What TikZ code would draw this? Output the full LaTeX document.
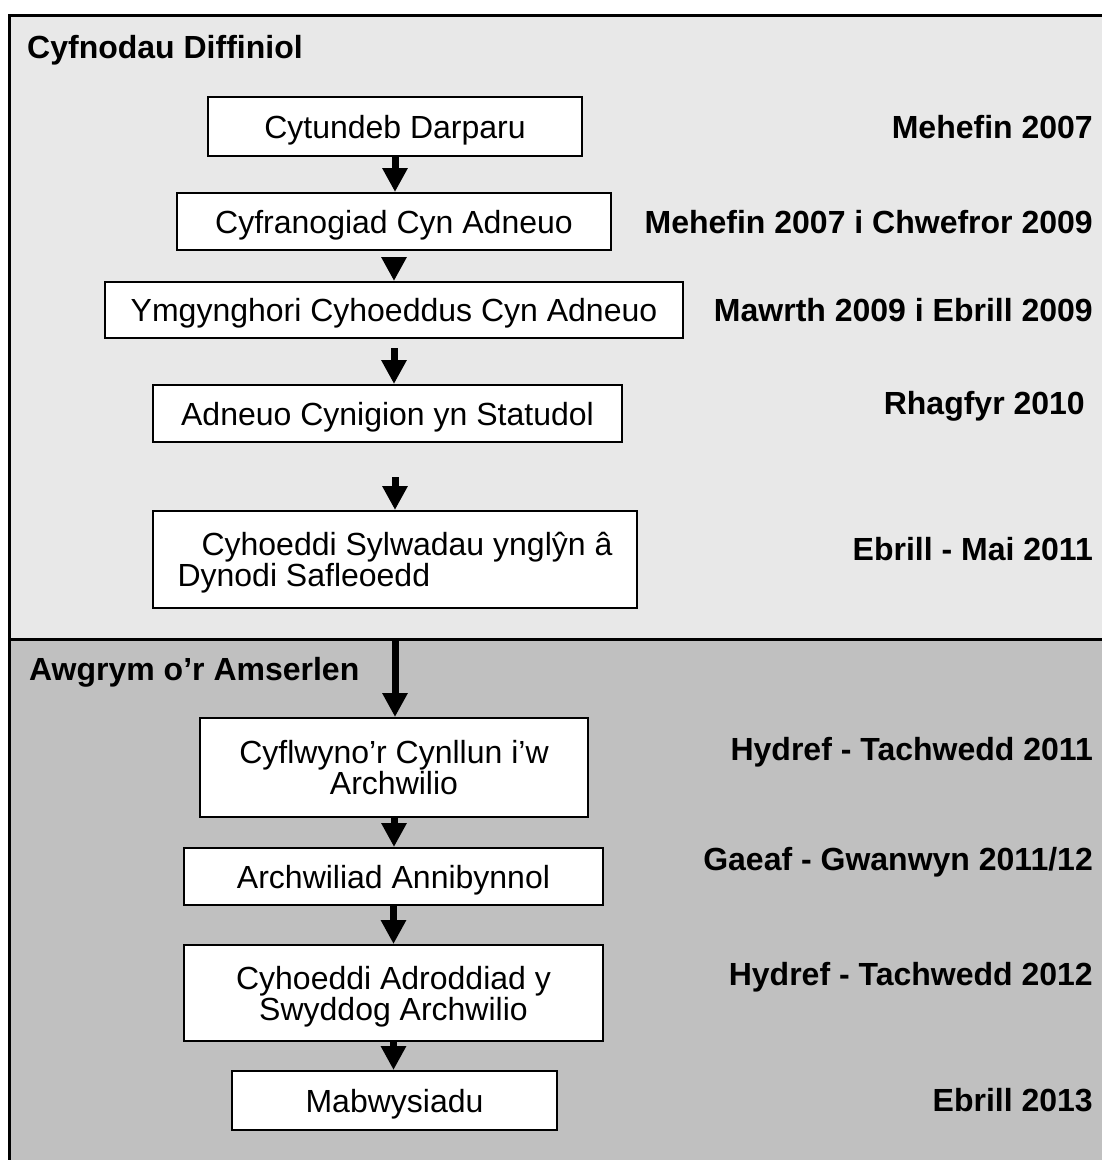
\documentclass[tikz,border=0pt]{standalone}
\usepackage{fontspec}
\setmainfont{Liberation Sans}
\usetikzlibrary{arrows.meta}
\definecolor{panelA}{HTML}{E8E8E8}
\definecolor{panelB}{HTML}{C0C0C0}

\begin{document}
\begin{tikzpicture}[x=1pt,y=-1pt,
  font=\fontsize{32}{31}\selectfont,
  stage/.style={draw,line width=2pt,fill=white,inner sep=0pt,text depth=0pt,align=center},
  when/.style={anchor=east,inner sep=0pt,font=\fontsize{32}{31}\selectfont\bfseries},
  heading/.style={anchor=west,inner sep=0pt,font=\fontsize{32}{31}\selectfont\bfseries},
  flow/.style={line width=7pt,-{Triangle[width=24pt,length=24pt]}}]
  \useasboundingbox (0,0) rectangle (1102,1160);
  % the two panels
  \fill[panelA] (9,15) rectangle (1110,639);
  \fill[panelB] (9,639) rectangle (1110,1170);
  \draw[line width=3pt] (1110,15) -- (9,15) -- (9,1170);
  \coordinate (rhannu) at (9,639);
  \draw[line width=3pt] (rhannu) -- (1110,639);
  \node[heading] (diffiniol) at (27,50) {Cyfnodau Diffiniol};
  \node[heading] (amserlen) at (29,672) {Awgrym o’r Amserlen};
  % stages
  \node[stage,minimum width=374pt,minimum height=59pt] (cytundeb) at (395,126.5) {Cytundeb Darparu};
  \node[stage,minimum width=434pt,minimum height=57pt] (cyfranogiad) at (394,221.5) {Cyfranogiad Cyn Adneuo};
  \node[stage,minimum width=578pt,minimum height=56pt] (ymgynghori) at (394,310) {Ymgynghori Cyhoeddus Cyn Adneuo};
  \node[stage,minimum width=469pt,minimum height=57pt] (adneuo) at (387.5,413.5) {Adneuo Cynigion yn Statudol};
  \node[stage,minimum width=484pt,minimum height=97pt,align=left] (sylwadau) at (395,559.5)
    {\hspace{24pt}Cyhoeddi Sylwadau ynglŷn â\\Dynodi Safleoedd};
  \node[stage,minimum width=388pt,minimum height=99pt] (cyflwyno) at (394,767.5) {Cyflwyno’r Cynllun i’w\\Archwilio};
  \node[stage,minimum width=419pt,minimum height=57pt] (archwiliad) at (393.5,876.5) {Archwiliad Annibynnol};
  \node[stage,minimum width=419pt,minimum height=96pt] (adroddiad) at (393.5,993) {Cyhoeddi Adroddiad y\\Swyddog Archwilio};
  \node[stage,minimum width=325pt,minimum height=59pt] (mabwysiadu) at (394.5,1100.5) {Mabwysiadu};
  % dates
  \node[when] (d1) at (1093,127) {Mehefin 2007};
  \node[when] (d2) at (1093,222) {Mehefin 2007 i Chwefror 2009};
  \node[when] (d3) at (1093,310) {Mawrth 2009 i Ebrill 2009};
  \node[when] (d4) at (1085,406) {Rhagfyr 2010};
  \node[when] (d5) at (1093,549) {Ebrill - Mai 2011};
  \node[when] (d6) at (1093,752) {Hydref - Tachwedd 2011};
  \node[when] (d7) at (1093,862) {Gaeaf - Gwanwyn 2011/12};
  \node[when] (d8) at (1093,977) {Hydref - Tachwedd 2012};
  \node[when] (d9) at (1093,1100) {Ebrill 2013};
  % arrows
  \draw[flow] (cytundeb.south) -- (cytundeb.south |- cyfranogiad.north);
  \draw[flow,shorten <=7pt] (cyfranogiad.south) -- (cyfranogiad.south |- ymgynghori.north);
  \draw[flow,shorten <=9pt] (ymgynghori.south) -- (ymgynghori.south |- adneuo.north);
  \draw[flow,shorten <=34pt] (adneuo.south -| sylwadau.north) -- (sylwadau.north);
  \draw[flow] (sylwadau.south |- rhannu) -- (sylwadau.south |- cyflwyno.north);
  \draw[flow] (cyflwyno.south) -- (cyflwyno.south |- archwiliad.north);
  \draw[flow] (archwiliad.south) -- (archwiliad.south |- adroddiad.north);
  \draw[flow] (adroddiad.south) -- (adroddiad.south |- mabwysiadu.north);
\end{tikzpicture}
\end{document}
